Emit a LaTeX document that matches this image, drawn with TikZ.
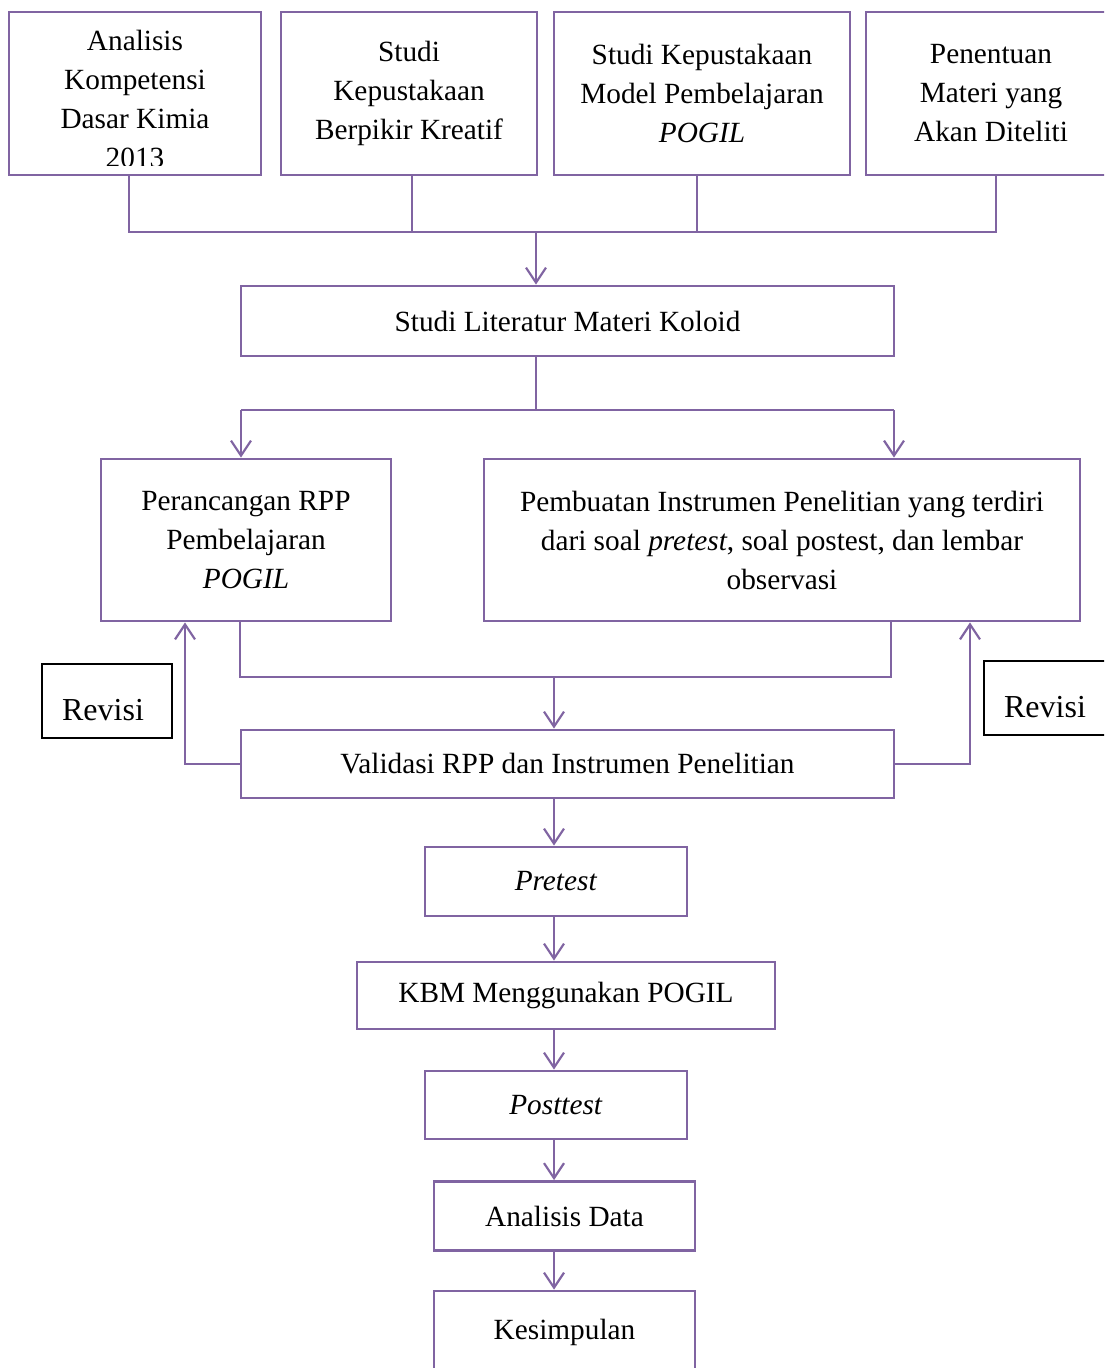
\documentclass[tikz,border=0pt]{standalone}
\usepackage{fontspec}
\setmainfont{Liberation Serif}
\usetikzlibrary{arrows.meta}
\definecolor{pur}{RGB}{128,100,162}
\begin{document}
\begin{tikzpicture}[x=1pt,y=-1pt,
  txt/.style={inner sep=0pt,align=center,font=\fontsize{29.3}{39}\selectfont},
  box/.style={draw=pur,line width=2.8,inner sep=0pt,align=center,font=\fontsize{29.3}{39}\selectfont},
  rbox/.style={draw=black,line width=2,inner sep=0pt},
  conn/.style={draw=pur,line width=2},
  arr/.style={conn,-{Straight Barb[length=15pt,width=20pt,line width=2.2pt]}}]
\useasboundingbox (0,0) rectangle (1104,1368);
\clip (0,0) rectangle (1104,1368);
\fill[white] (0,0) rectangle (1104,1368);

% top row
\begin{scope}
  \clip (10,14) rectangle (260,165);
  \node[txt] (a1t) at (135,99) {Analisis\\Kompetensi\\Dasar Kimia\\2013};
\end{scope}
\node[box,minimum width=252,minimum height=163] (a1) at (135,93.5) {};
\node[box,minimum width=256,minimum height=163] (a2) at (409,93.5) {Studi\\Kepustakaan\\Berpikir Kreatif};
\node[box,minimum width=296,minimum height=163] (a3) at (702,93.5) {Studi Kepustakaan\\Model Pembelajaran\\\textit{POGIL}};
\node[box,minimum width=250,minimum height=163] (a4) at (991,93.5) {Penentuan\\Materi yang\\Akan Diteliti};

\node[box,minimum width=653,minimum height=70] (lit) at (567.5,321) {Studi Literatur Materi Koloid};

\node[box,minimum width=290,minimum height=162] (b1) at (246,540) {Perancangan RPP\\Pembelajaran\\\textit{POGIL}};
\node[box,minimum width=596,minimum height=162] (b2) at (782,540) {Pembuatan Instrumen Penelitian yang terdiri\\dari soal \textit{pretest}, soal postest, dan lembar\\observasi};

\node[box,minimum width=653,minimum height=68] (val) at (567.5,764) {Validasi RPP dan Instrumen Penelitian};

\node[box,minimum width=262,minimum height=69] (pre) at (556,881.5) {\textit{Pretest}};
\node[box,minimum width=418,minimum height=67] (kbm) at (566,995.5) {KBM Menggunakan POGIL};
\node[box,minimum width=262,minimum height=68] (post) at (556,1105) {\textit{Posttest}};
\node[box,minimum width=261,minimum height=69] (ana) at (564.5,1216) {Analisis Data};
\node[box,minimum width=261,minimum height=120] (kes) at (564.5,1351) {};
\node[txt] (kest) at (564.5,1332) {Kesimpulan};

% Revisi boxes
\node[rbox,minimum width=130,minimum height=74] (r1) at (107,701) {};
\node[txt,font=\fontsize{32}{36}\selectfont] (r1t) at (103,710) {Revisi};
\node[rbox,minimum width=130,minimum height=74] (r2) at (1049,698) {};
\node[txt,font=\fontsize{32}{36}\selectfont] (r2t) at (1045,707) {Revisi};

% top connectors
\coordinate (hL) at (129,232);
\coordinate (hR) at (996,232);
\coordinate (j1) at (536,232);
\coordinate (c1) at ([xshift=-6]a1.south);
\coordinate (c2) at ([xshift=3]a2.south);
\coordinate (c3) at ([xshift=-5]a3.south);
\coordinate (c4) at ([xshift=5]a4.south);
\draw[conn] (c1) -- (c1 |- hL) -- (c4 |- hR) -- (c4);
\draw[conn] (c2) -- (c2 |- hL);
\draw[conn] (c3) -- (c3 |- hL);
\draw[arr] (j1) -- (j1 |- lit.north);

% split to b1, b2
\coordinate (j2) at (536,410);
\coordinate (s1) at (241,410);
\coordinate (s2) at (894,410);
\draw[conn] (j2 |- lit.south) -- (j2);
\draw[conn] (s1) -- (s2);
\draw[arr] (s1) -- (s1 |- b1.north);
\draw[arr] (s2) -- (s2 |- b2.north);

% merge to validasi
\coordinate (m1) at (240,677);
\coordinate (m2) at (891,677);
\coordinate (j3) at (554,677);
\draw[conn] (m1 |- b1.south) -- (m1) -- (m2) -- (m2 |- b2.south);
\draw[arr] (j3) -- (j3 |- val.north);

% revisi loops
\coordinate (l1) at (185,764);
\coordinate (l2) at (970,764);
\draw[arr] (val.west) -- (l1) -- (l1 |- b1.south);
\draw[arr] (val.east) -- (l2) -- (l2 |- b2.south);

% spine
\coordinate (sp) at (554,0);
\draw[arr] (sp |- val.south) -- (sp |- pre.north);
\draw[arr] (sp |- pre.south) -- (sp |- kbm.north);
\draw[arr] (sp |- kbm.south) -- (sp |- post.north);
\draw[arr] (sp |- post.south) -- (sp |- ana.north);
\draw[arr] (sp |- ana.south) -- (sp |- kes.north);
\end{tikzpicture}
\end{document}
